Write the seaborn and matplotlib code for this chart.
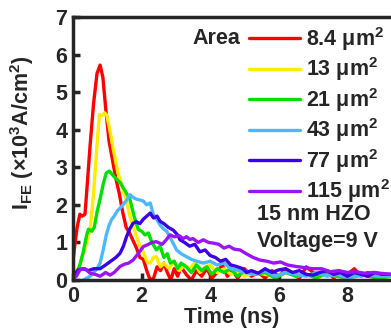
import numpy as np
import pandas as pd
import matplotlib
matplotlib.use("Agg")
import matplotlib.pyplot as plt
import seaborn as sns

sns.set_style("ticks")
plt.rcParams['font.family'] = ['Liberation Sans', 'DejaVu Sans']
plt.rcParams['font.weight'] = 'bold'
plt.rcParams['mathtext.fontset'] = 'custom'
plt.rcParams['mathtext.rm'] = 'Liberation Sans:bold'
plt.rcParams['mathtext.bf'] = 'Liberation Sans:bold'
plt.rcParams['mathtext.it'] = 'Liberation Sans:bold'
plt.rcParams['mathtext.default'] = 'bf'

areas = ["8.4", "13", "21", "43", "77", "115"]
colors = ["#ff0000", "#ffec00", "#00e000", "#4db8ff", "#3a00e8", "#9a14f5"]

t_84 = [0, 0.05, 0.12, 0.2, 0.27, 0.35, 0.42, 0.5, 0.6, 0.7, 0.79, 0.87, 0.95, 1.05, 1.15, 1.25, 1.35, 1.45,
        1.55, 1.65, 1.75, 1.85, 1.95, 2.05, 2.15, 2.25, 2.35, 2.45, 2.55, 2.65, 2.75, 2.85, 2.95, 3.05, 3.15,
        3.3, 3.45, 3.6, 3.75, 3.9, 4.05, 4.2, 4.35, 4.5, 4.65, 4.8, 5.0, 5.2, 5.4, 5.6, 5.8, 6.0, 6.2, 6.4,
        6.6, 6.8, 7.0, 7.2, 7.4, 7.6, 7.8, 8.0, 8.2, 8.4, 8.6, 8.8, 9.0, 9.3]
i_84 = [0.5, 0.9, 1.4, 1.75, 1.7, 1.75, 2.6, 3.6, 4.7, 5.5, 5.72, 5.4, 4.6, 3.7, 3.2, 2.7, 2.3, 1.8,
        1.4, 1.25, 1.05, 0.85, 0.6, 0.55, 0.25, 0.0, 0.05, 0.35, 0.25, 0.45, 0.2, 0.0, 0.3, 0.1, 0.35,
        0.15, 0.0, 0.25, 0.1, 0.3, 0.05, 0.2, 0.4, 0.1, 0.25, 0.05, 0.3, 0.1, 0.2, 0.05, 0.25, 0.1, 0.3, 0.15,
        0.05, 0.35, 0.2, 0.1, 0.25, 0.05, 0.2, 0.15, 0.3, 0.1, 0.2, 0.05, 0.15, 0.1]

t_13 = [0, 0.1, 0.2, 0.3, 0.4, 0.5, 0.6, 0.7, 0.77, 0.85, 0.92, 0.98, 1.05, 1.17, 1.3, 1.46, 1.56, 1.66,
        1.8, 1.95, 2.05, 2.15, 2.25, 2.35, 2.43, 2.55, 2.65, 2.8, 2.95, 3.1, 3.25, 3.4, 3.55, 3.7, 3.85,
        4.0, 4.2, 4.4, 4.6, 4.8, 5.0, 5.3, 5.6, 5.9, 6.2, 6.5, 6.8, 7.1, 7.4, 7.7, 8.0, 8.3, 8.6, 8.9, 9.3]
i_13 = [0.3, 0.2, 0.4, 0.7, 1.0, 1.35, 2.3, 3.6, 4.4, 4.38, 4.45, 4.4, 4.1, 3.5, 2.9, 2.4, 2.1, 1.7,
        1.3, 0.9, 0.75, 0.5, 0.45, 0.6, 0.62, 0.35, 0.45, 0.3, 0.5, 0.25, 0.4, 0.3, 0.45, 0.2, 0.35,
        0.4, 0.2, 0.3, 0.15, 0.25, 0.1, 0.2, 0.15, 0.1, 0.2, 0.1, 0.15, 0.05, 0.15, 0.1, 0.05, 0.1, 0.15, 0.05, 0.1]

t_21 = [0, 0.1, 0.2, 0.3, 0.4, 0.45, 0.55, 0.62, 0.7, 0.8, 0.88, 0.97, 1.06, 1.15, 1.25, 1.37, 1.5, 1.66,
        1.78, 1.9, 2.0, 2.1, 2.2, 2.3, 2.43, 2.54, 2.65, 2.75, 2.84, 2.95, 3.05, 3.15, 3.3, 3.45, 3.6, 3.75,
        3.9, 4.05, 4.2, 4.4, 4.6, 4.8, 5.0, 5.3, 5.6, 5.9, 6.2, 6.5, 6.8, 7.1, 7.4, 7.7, 8.0, 8.3, 8.6, 8.9, 9.3]
i_21 = [0.0, 0.15, 0.4, 0.75, 1.2, 1.35, 1.3, 1.4, 1.8, 2.2, 2.55, 2.85, 2.9, 2.8, 2.7, 2.6, 2.4, 2.15,
        1.7, 1.35, 1.3, 1.2, 1.25, 1.0, 0.8, 0.9, 0.6, 0.7, 0.45, 0.5, 0.3, 0.45, 0.35, 0.2, 0.4, 0.25,
        0.35, 0.15, 0.3, 0.2, 0.3, 0.1, 0.25, 0.15, 0.2, 0.05, 0.2, 0.1, 0.15, 0.05, 0.2, 0.1, 0.05, 0.15, 0.1, 0.05, 0.1]

t_43 = [0.3, 0.4, 0.5, 0.6, 0.7, 0.79, 0.88, 0.97, 1.05, 1.12, 1.2, 1.3, 1.41, 1.5, 1.58, 1.66, 1.75, 1.85,
        1.95, 2.05, 2.15, 2.25, 2.34, 2.45, 2.55, 2.65, 2.73, 2.85, 3.02, 3.15, 3.31, 3.45, 3.6, 3.8, 4.0,
        4.2, 4.4, 4.6, 4.77, 5.0, 5.3, 5.6, 5.9, 6.2, 6.5, 6.8, 7.1, 7.4, 7.7, 8.0, 8.3, 8.6, 8.9, 9.3]
i_43 = [0.0, 0.05, 0.1, 0.2, 0.3, 0.45, 0.8, 1.2, 1.45, 1.6, 1.7, 1.85, 1.95, 2.05, 2.15, 2.27, 2.2, 2.15,
        2.13, 2.1, 2.0, 2.05, 1.75, 1.6, 1.45, 1.35, 1.3, 1.1, 0.8, 0.7, 0.62, 0.55, 0.5, 0.45, 0.5,
        0.4, 0.45, 0.3, 0.27, 0.2, 0.15, 0.25, 0.1, 0.2, 0.15, 0.1, 0.2, 0.1, 0.15, 0.05, 0.1, 0.15, 0.1, 0.1]

t_77 = [0, 0.15, 0.3, 0.45, 0.6, 0.79, 0.95, 1.1, 1.25, 1.37, 1.47, 1.56, 1.65, 1.75, 1.85, 1.95, 2.05, 2.15,
        2.25, 2.35, 2.45, 2.54, 2.65, 2.78, 2.92, 3.05, 3.12, 3.25, 3.4, 3.55, 3.7, 3.85, 4.0, 4.15, 4.3,
        4.45, 4.6, 4.77, 4.95, 5.06, 5.2, 5.4, 5.6, 5.8, 6.0, 6.2, 6.4, 6.6, 6.8, 7.0, 7.2, 7.4, 7.6, 7.8,
        8.0, 8.2, 8.4, 8.6, 8.8, 9.0, 9.3]
i_77 = [0.1, 0.27, 0.3, 0.25, 0.3, 0.3, 0.4, 0.5, 0.6, 0.71, 0.9, 1.15, 1.35, 1.51, 1.55, 1.5, 1.62, 1.7,
        1.78, 1.65, 1.7, 1.56, 1.5, 1.4, 1.33, 1.2, 1.07, 1.0, 0.9, 0.95, 0.75, 0.8, 0.65, 0.6, 0.5,
        0.55, 0.4, 0.36, 0.3, 0.2, 0.25, 0.18, 0.3, 0.2, 0.27, 0.3, 0.2, 0.25, 0.15, 0.13, 0.2, 0.25, 0.15, 0.2,
        0.1, 0.2, 0.15, 0.1, 0.2, 0.15, 0.15]

t_115 = [0, 0.1, 0.2, 0.35, 0.5, 0.65, 0.79, 0.95, 1.08, 1.2, 1.37, 1.5, 1.62, 1.75, 1.9, 2.05, 2.2, 2.3,
         2.43, 2.6, 2.7, 2.83, 2.95, 3.1, 3.2, 3.31, 3.4, 3.5, 3.65, 3.8, 3.95, 4.1, 4.25, 4.4, 4.55, 4.7,
         4.87, 5.05, 5.25, 5.45, 5.65, 5.85, 6.05, 6.25, 6.5, 6.75, 7.0, 7.25, 7.5, 7.75, 8.0, 8.25, 8.5,
         8.75, 8.95, 9.3]
i_115 = [0.05, 0.1, 0.27, 0.3, 0.18, 0.15, 0.1, 0.2, 0.13, 0.2, 0.36, 0.42, 0.45, 0.53, 0.7, 0.89, 0.95, 1.0,
         1.02, 0.95, 1.05, 1.2, 1.15, 1.18, 1.1, 1.15, 1.08, 1.1, 1.0, 1.07, 1.0, 0.98, 0.95, 0.85, 0.9, 0.82,
         0.8, 0.7, 0.6, 0.53, 0.5, 0.45, 0.48, 0.4, 0.36, 0.33, 0.3, 0.3, 0.22, 0.25, 0.2, 0.22, 0.18,
         0.2, 0.18, 0.15]

x_ticks = [0, 2, 4, 6, 8]
y_ticks = [0, 1, 2, 3, 4, 5, 6, 7]

series = [(areas[0], t_84, i_84), (areas[1], t_13, i_13), (areas[2], t_21, i_21),
          (areas[3], t_43, i_43), (areas[4], t_77, i_77), (areas[5], t_115, i_115)]
labels = [a + r" μm$^{2}$" for a in areas]
frames = []
for (a, t, i), lab in zip(series, labels):
    frames.append(pd.DataFrame({"Time": t, "I": i, "Area": lab}))
df = pd.concat(frames, ignore_index=True)

W, H = 391, 335
fig = plt.figure(figsize=(W / 100, H / 100), dpi=100)
ax = fig.add_axes([73 / W, (H - 280) / H, (W - 73) / W, (280 - 17) / H])

sns.lineplot(data=df, x="Time", y="I", hue="Area", hue_order=labels,
             palette=dict(zip(labels, colors)), estimator=None, sort=True,
             linewidth=2.4, ax=ax)

ax.set_xlim(0, 9.27)
ax.set_ylim(0, 7)
ax.set_xticks(x_ticks)
ax.set_yticks(y_ticks)
ax.tick_params(direction="in", length=5, width=2.5, labelsize=15.5, pad=4)
for lab in ax.get_xticklabels() + ax.get_yticklabels():
    lab.set_fontweight("bold")
for s in ["left", "bottom", "top"]:
    ax.spines[s].set_linewidth(2.5)
ax.spines["right"].set_visible(False)

ax.set_xlabel("Time (ns)", fontsize=15.5, fontweight="bold", labelpad=0)
ax.set_ylabel(r"I$_{FE}$ (×10$^{3}$A/cm$^{2}$)", fontsize=15.5, fontweight="bold")
ax.yaxis.set_label_coords((36 - 73) / 318, (280 - 133) / 263)

FS = 15.5
leg = ax.legend(loc="upper left", bbox_to_anchor=(249 / W, 1 - 25 / H), bbox_transform=fig.transFigure,
                frameon=False, fontsize=FS, handlelength=2.35, handletextpad=0.28,
                labelspacing=0.12, borderpad=0, borderaxespad=0)
for line in leg.get_lines():
    line.set_linewidth(2.4)
for txt in leg.get_texts():
    txt.set_fontweight("bold")

fig.text(192 / W, 1 - 39 / H, "Area", fontsize=FS, fontweight="bold", va="center", ha="left")
fig.text(257 / W, 1 - 215 / H, "15 nm HZO", fontsize=FS, fontweight="bold", va="center", ha="left")
fig.text(257 / W, 1 - 242 / H, "Voltage=9 V", fontsize=FS, fontweight="bold", va="center", ha="left")

fig.savefig("out.png", dpi=100)
